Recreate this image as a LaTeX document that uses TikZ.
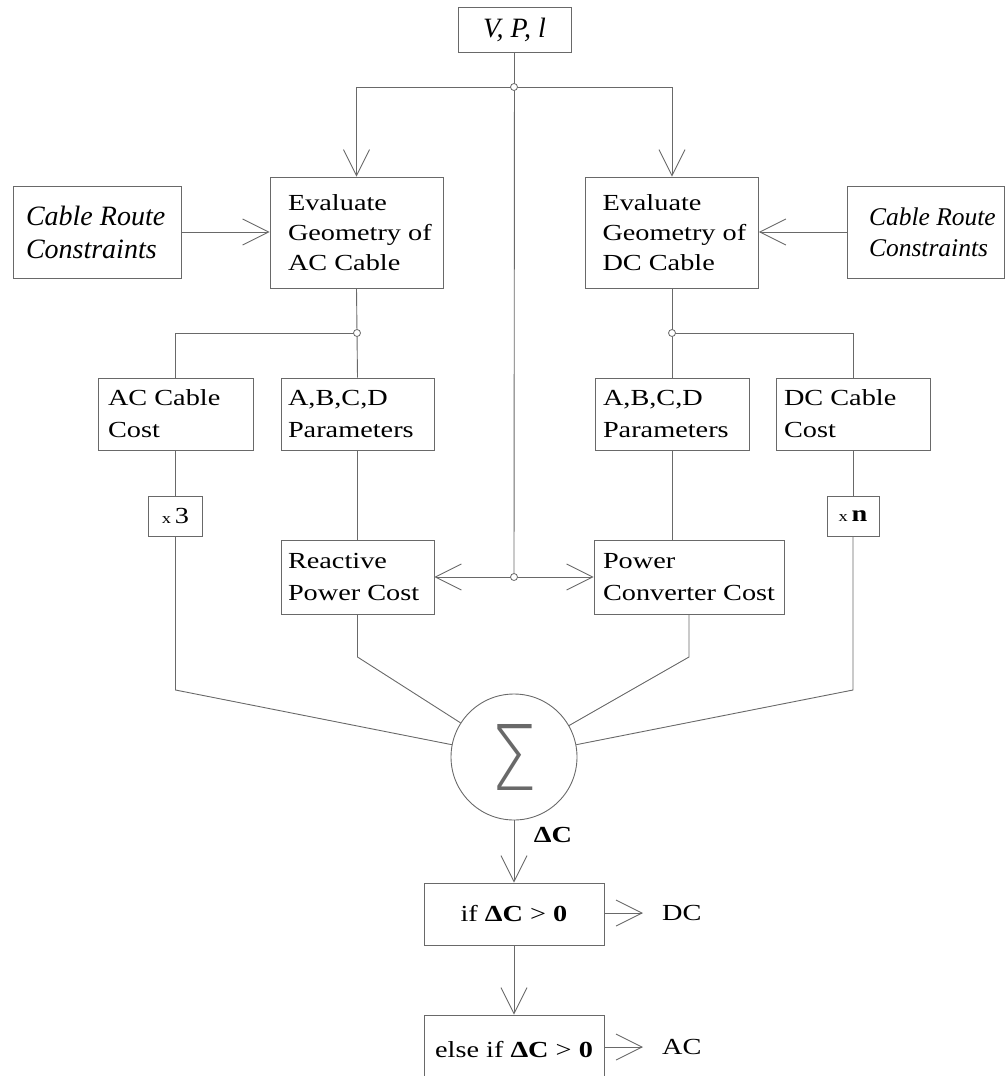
\documentclass[tikz,border=0pt]{standalone}
\usepackage{fontspec}
\usepackage{graphicx}
\setmainfont{Liberation Serif}[FakeStretch=1.23]
\newfontfamily\plainserif{Liberation Serif}
\usetikzlibrary{arrows.meta}

% thin face for the summation sign, first one available wins
\newcommand\sigmasign{$\displaystyle\sum$}
\IfFontExistsTF{Lato Hairline}
  {\newfontfamily\sigmafontC{Lato Hairline}\renewcommand\sigmasign{{\sigmafontC Σ}}}{}
\IfFontExistsTF{DejaVu Sans ExtraLight}
  {\newfontfamily\sigmafontB{DejaVu Sans ExtraLight}\renewcommand\sigmasign{{\sigmafontB Σ}}}{}
\IfFontExistsTF{Noto Sans Thin}
  {\newfontfamily\sigmafontA{Noto Sans Thin}\renewcommand\sigmasign{{\sigmafontA Σ}}}{}

\definecolor{linegray}{RGB}{105,105,105}

% block text: box width, left indent, lines
\newcommand\blocktext[3]{\parbox{#1pt}{\leftskip=#2pt\relax #3}}

\tikzset{
  wire/.style={draw=linegray, line width=0.9pt},
  arr/.style={wire, -{Straight Barb[length=26pt,width=26pt,line width=0.9pt]}},
  blk/.style={draw=linegray, line width=0.9pt, rectangle, inner sep=0pt,
              text=black, font=\fontsize{23}{32}\selectfont},
  evalblk/.style={blk, font=\fontsize{23}{30}\selectfont, minimum height=111pt},
  crcblk/.style={blk, minimum height=92pt},
  mulblk/.style={blk, minimum height=40pt, font=\fontsize{23}{23}\selectfont},
  decblk/.style={blk, minimum width=180pt, font=\fontsize{23}{23}\selectfont},
  junc/.style={circle, draw=linegray, fill=white, inner sep=0pt, minimum size=7pt, line width=0.8pt},
  plain/.style={inner sep=0pt, text=black, font=\fontsize{23}{23}\selectfont},
}

\begin{document}
\begin{tikzpicture}[x=1pt, y=-1pt]
\useasboundingbox (0,0) rectangle (1008,1076);
\clip (0,0) rectangle (1008,1076);

% inputs
\node[blk, minimum width=113pt, minimum height=45pt,
      font=\plainserif\fontsize{28}{28}\selectfont\itshape] (vpl) at (514.5,29.5) {V, P, l};

\node[crcblk, font=\plainserif\fontsize{28}{33}\selectfont\itshape] (crcL) at (97,232)
  {\blocktext{168}{13}{Cable Route\\Constraints}};
\node[crcblk, font=\plainserif\fontsize{25.5}{31}\selectfont\itshape] (crcR) at (925.5,232)
  {\blocktext{157}{22}{Cable Route\\Constraints}};

% geometry evaluation
\node[evalblk] (evalAC) at (356.5,232.5) {\blocktext{173}{18}{Evaluate\\Geometry of\\AC Cable}};
\node[evalblk] (evalDC) at (672,232.5) {\blocktext{173}{17}{Evaluate\\Geometry of\\DC Cable}};

% cost blocks
\node[blk, minimum height=72pt] (acCost) at (175.5,414) {\blocktext{155}{10}{AC Cable\\Cost}};
\node[blk, minimum height=72pt] (abcdL) at (357.5,414) {\blocktext{153}{7}{A,B,C,D\\Parameters}};
\node[blk, minimum height=72pt] (abcdR) at (672,414) {\blocktext{154}{8}{A,B,C,D\\Parameters}};
\node[blk, minimum height=72pt] (dcCost) at (853,414) {\blocktext{154}{8}{DC Cable\\Cost}};

\node[mulblk, minimum width=54pt] (x3) at (175.5,516) {{\fontsize{15}{15}\selectfont x}\,3};
\node[mulblk, minimum width=52pt] (xn) at (853,516) {{\fontsize{15}{15}\selectfont x}\,\textbf{n}};

\node[blk, minimum height=74pt] (reactive) at (357.5,577) {\blocktext{153}{7}{Reactive\\Power Cost}};
\node[blk, minimum height=74pt] (converter) at (689,577) {\blocktext{190}{9}{Power\\Converter Cost}};

% summation
\node[circle, draw=linegray, line width=0.9pt, minimum size=126pt, inner sep=0pt, text=linegray] (sum) at (514,757)
  {\resizebox{47pt}{66pt}{\sigmasign}};
\node[plain] (dC) at (553,835) {\textbf{ΔC}};

% decision
\node[decblk, minimum height=62pt] (ifb) at (514,914) {if \textbf{ΔC} > \textbf{0}};
\node[decblk, minimum height=70pt] (elseb) at (514,1050) {else if \textbf{ΔC} > \textbf{0}};
\node[plain, anchor=west] (dcl) at (662,913) {DC};
\node[plain, anchor=west] (acl) at (662,1047) {AC};

% junction points and bends
\coordinate (j0) at (514,87);
\coordinate (jm) at (514,577);
\coordinate (jA) at (357,333);
\coordinate (jD) at (672,333);
\coordinate (k1) at (175.5,690);
\coordinate (k2) at (357.5,657);
\coordinate (k3) at (689,657);
\coordinate (k4) at (853,690);

% connectors
\draw[wire] (vpl.south) -- (jm);
\draw[arr] (j0) -| (evalAC.north);
\draw[arr] (j0) -| (evalDC.north);
\draw[arr] (crcL.east) -- (crcL.east -| evalAC.west);
\draw[arr] (crcR.west) -- (crcR.west -| evalDC.east);

\draw[wire] (evalAC.south) -- (jA);
\draw[wire] (jA) -| (acCost.north);
\draw[wire] (jA) -- (abcdL.north);
\draw[wire] (evalDC.south) -- (jD);
\draw[wire] (jD) -| (dcCost.north);
\draw[wire] (jD) -- (abcdR.north);

\draw[wire] (acCost.south) -- (x3.north);
\draw[wire] (x3.south) -- (k1) -- (sum);
\draw[wire] (abcdL.south) -- (reactive.north);
\draw[wire] (reactive.south) -- (k2) -- (sum);
\draw[wire] (abcdR.south) -- (abcdR.south |- converter.north);
\draw[wire] (converter.south) -- (k3) -- (sum);
\draw[wire] (dcCost.south) -- (xn.north);
\draw[wire] (xn.south) -- (k4) -- (sum);

\draw[arr] (jm) -- (reactive.east);
\draw[arr] (jm) -- (converter.west);

\draw[arr] (sum) -- (ifb);
\draw[arr] (ifb) -- (elseb);
\draw[arr, shorten >=19pt] (ifb.east |- dcl.west) -- (dcl.west);
\draw[arr, shorten >=19pt] (elseb.east |- acl.west) -- (acl.west);

% junction dots
\node[junc] (j0dot) at (j0) {};
\node[junc] (jmdot) at (jm) {};
\node[junc] (jAdot) at (jA) {};
\node[junc] (jDdot) at (jD) {};
\end{tikzpicture}
\end{document}
